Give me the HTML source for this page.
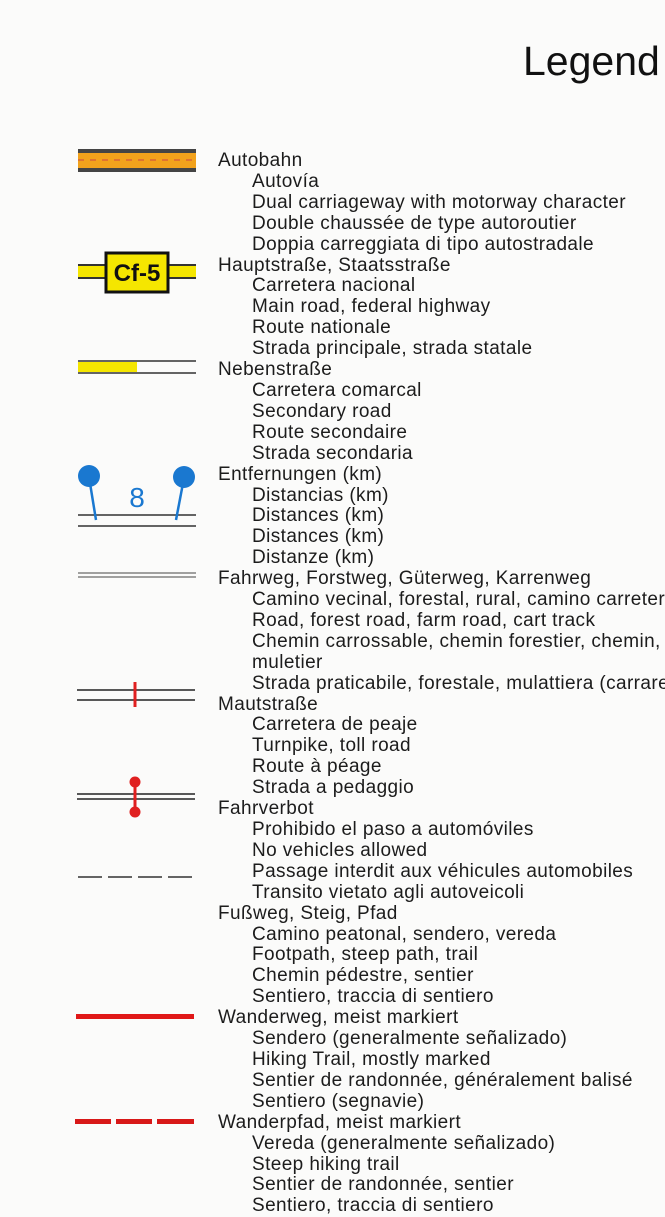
<!DOCTYPE html>
<html><head><meta charset="utf-8"><style>
html,body{margin:0;padding:0;background:#fbfbfa;}
body{width:665px;height:1203px;position:relative;overflow:hidden;font-family:"Liberation Sans",sans-serif;color:#1c1c1c;}
.t{position:absolute;font-size:41px;left:523px;top:38px;color:#111;}
.l{position:absolute;font-size:19px;letter-spacing:0.4px;white-space:nowrap;line-height:21px;}
</style></head><body>
<div class="t">Legend</div>
<svg width="665" height="1203" style="position:absolute;left:0;top:0">
<rect x="78" y="149" width="118" height="23" fill="#f2a21c"/>
<rect x="78" y="149" width="118" height="4" fill="#444"/>
<rect x="78" y="168" width="118" height="4" fill="#444"/>
<line x1="78" y1="160" x2="196" y2="160" stroke="#c44" stroke-width="1" stroke-dasharray="6 6"/>
<rect x="78" y="265" width="118" height="13" fill="#f5e600"/>
<line x1="78" y1="265" x2="196" y2="265" stroke="#333" stroke-width="2"/>
<line x1="78" y1="278" x2="196" y2="278" stroke="#333" stroke-width="2"/>
<rect x="106" y="253" width="62" height="39" fill="#f5e600" stroke="#111" stroke-width="3"/>
<text x="137" y="281" text-anchor="middle" font-family="Liberation Sans" font-weight="bold" font-size="24" fill="#111">Cf-5</text>
<rect x="78" y="362" width="59" height="10" fill="#f5e600"/>
<line x1="78" y1="361" x2="196" y2="361" stroke="#333" stroke-width="1.5"/>
<line x1="78" y1="373" x2="196" y2="373" stroke="#333" stroke-width="1.5"/>
<line x1="78" y1="515" x2="196" y2="515" stroke="#333" stroke-width="1.5"/>
<line x1="78" y1="526" x2="196" y2="526" stroke="#333" stroke-width="1.5"/>
<line x1="89" y1="477" x2="96" y2="520" stroke="#1a78d0" stroke-width="2.5"/>
<line x1="184" y1="478" x2="176" y2="520" stroke="#1a78d0" stroke-width="2.5"/>
<circle cx="89" cy="476" r="11" fill="#1a78d0"/>
<circle cx="184" cy="477" r="11" fill="#1a78d0"/>
<text x="137" y="507" text-anchor="middle" font-family="Liberation Sans" font-size="28" fill="#1a78d0">8</text>
<line x1="78" y1="573" x2="196" y2="573" stroke="#444" stroke-width="1"/>
<line x1="78" y1="577" x2="196" y2="577" stroke="#444" stroke-width="1"/>
<line x1="77" y1="690" x2="195" y2="690" stroke="#222" stroke-width="1.5"/>
<line x1="77" y1="700" x2="195" y2="700" stroke="#222" stroke-width="1.5"/>
<line x1="135" y1="682" x2="135" y2="707" stroke="#e02020" stroke-width="3"/>
<line x1="77" y1="794" x2="195" y2="794" stroke="#222" stroke-width="1.5"/>
<line x1="77" y1="799" x2="195" y2="799" stroke="#222" stroke-width="1.5"/>
<line x1="135" y1="782" x2="135" y2="812" stroke="#e02020" stroke-width="3"/>
<circle cx="135" cy="782" r="5.5" fill="#e02020"/>
<circle cx="135" cy="812" r="5.5" fill="#e02020"/>
<line x1="78" y1="877" x2="192" y2="877" stroke="#333" stroke-width="1.5" stroke-dasharray="24 6"/>
<rect x="76" y="1014" width="118" height="5" fill="#e01818"/>
<rect x="75" y="1119" width="36" height="5" fill="#d81818"/>
<rect x="116" y="1119" width="36" height="5" fill="#d81818"/>
<rect x="157" y="1119" width="37" height="5" fill="#d81818"/>
</svg>
<div style="position:absolute;left:0;top:151px;">
<div class="l" style="position:relative;line-height:20.91px">
<div style="padding-left:218px">Autobahn</div>
<div style="padding-left:252px">Autovía</div>
<div style="padding-left:252px">Dual carriageway with motorway character</div>
<div style="padding-left:252px">Double chaussée de type autoroutier</div>
<div style="padding-left:252px">Doppia carreggiata di tipo autostradale</div>
<div style="padding-left:218px">Hauptstraße, Staatsstraße</div>
<div style="padding-left:252px">Carretera nacional</div>
<div style="padding-left:252px">Main road, federal highway</div>
<div style="padding-left:252px">Route nationale</div>
<div style="padding-left:252px">Strada principale, strada statale</div>
<div style="padding-left:218px">Nebenstraße</div>
<div style="padding-left:252px">Carretera comarcal</div>
<div style="padding-left:252px">Secondary road</div>
<div style="padding-left:252px">Route secondaire</div>
<div style="padding-left:252px">Strada secondaria</div>
<div style="padding-left:218px">Entfernungen (km)</div>
<div style="padding-left:252px">Distancias (km)</div>
<div style="padding-left:252px">Distances (km)</div>
<div style="padding-left:252px">Distances (km)</div>
<div style="padding-left:252px">Distanze (km)</div>
<div style="padding-left:218px">Fahrweg, Forstweg, Güterweg, Karrenweg</div>
<div style="padding-left:252px">Camino vecinal, forestal, rural, camino carretero</div>
<div style="padding-left:252px">Road, forest road, farm road, cart track</div>
<div style="padding-left:252px">Chemin carrossable, chemin forestier, chemin, chemin</div>
<div style="padding-left:252px">muletier</div>
<div style="padding-left:252px">Strada praticabile, forestale, mulattiera (carrareccia)</div>
<div style="padding-left:218px">Mautstraße</div>
<div style="padding-left:252px">Carretera de peaje</div>
<div style="padding-left:252px">Turnpike, toll road</div>
<div style="padding-left:252px">Route à péage</div>
<div style="padding-left:252px">Strada a pedaggio</div>
<div style="padding-left:218px">Fahrverbot</div>
<div style="padding-left:252px">Prohibido el paso a automóviles</div>
<div style="padding-left:252px">No vehicles allowed</div>
<div style="padding-left:252px">Passage interdit aux véhicules automobiles</div>
<div style="padding-left:252px">Transito vietato agli autoveicoli</div>
<div style="padding-left:218px">Fußweg, Steig, Pfad</div>
<div style="padding-left:252px">Camino peatonal, sendero, vereda</div>
<div style="padding-left:252px">Footpath, steep path, trail</div>
<div style="padding-left:252px">Chemin pédestre, sentier</div>
<div style="padding-left:252px">Sentiero, traccia di sentiero</div>
<div style="padding-left:218px">Wanderweg, meist markiert</div>
<div style="padding-left:252px">Sendero (generalmente señalizado)</div>
<div style="padding-left:252px">Hiking Trail, mostly marked</div>
<div style="padding-left:252px">Sentier de randonnée, généralement balisé</div>
<div style="padding-left:252px">Sentiero (segnavie)</div>
<div style="padding-left:218px">Wanderpfad, meist markiert</div>
<div style="padding-left:252px">Vereda (generalmente señalizado)</div>
<div style="padding-left:252px">Steep hiking trail</div>
<div style="padding-left:252px">Sentier de randonnée, sentier</div>
<div style="padding-left:252px">Sentiero, traccia di sentiero</div>
</div></div>
</body></html>
